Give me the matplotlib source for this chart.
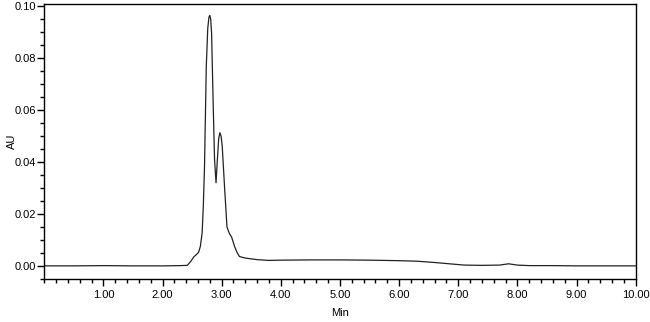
import matplotlib
matplotlib.use("Agg")
import matplotlib.pyplot as plt
from matplotlib.ticker import MultipleLocator, FormatStrFormatter

# chromatogram trace (minutes, AU)
time_min = [0.00, 0.50, 1.00, 1.50, 2.00, 2.30, 2.42, 2.48, 2.53, 2.58, 2.61, 2.64,
            2.67, 2.69, 2.71, 2.74, 2.765, 2.785, 2.80, 2.815, 2.83, 2.855, 2.88, 2.905, 2.925,
            2.95, 2.97, 2.99, 3.01, 3.05, 3.09, 3.13, 3.17, 3.22, 3.26, 3.30, 3.40, 3.60,
            3.80, 4.00, 4.50, 5.00, 5.50, 6.00, 6.30, 6.60, 6.90, 7.10, 7.40,
            7.70, 7.85, 8.00, 8.20, 8.60, 9.00, 9.50, 10.00]
absorb = [0.0000, 0.0000, 0.0001, 0.0000, 0.0000, 0.0001, 0.0002, 0.0018, 0.0035, 0.0045, 0.0052, 0.0075,
          0.0127, 0.0230, 0.0380, 0.0766, 0.0915, 0.0958, 0.0965, 0.0950, 0.0896, 0.0640, 0.0410, 0.0320, 0.0400,
          0.0490, 0.0513, 0.0500, 0.0460, 0.0300, 0.0150, 0.0125, 0.0110, 0.0074, 0.0052, 0.0036, 0.0030, 0.0024,
          0.0021, 0.0022, 0.0023, 0.0023, 0.0022, 0.0020, 0.0018, 0.0013, 0.0007, 0.0003, 0.0002,
          0.0003, 0.0008, 0.0003, 0.0001, 0.0001, 0.0000, 0.0000, 0.0000]

x_ticks = [1, 2, 3, 4, 5, 6, 7, 8, 9, 10]

plt.rcParams['font.family'] = ['Liberation Sans', 'DejaVu Sans']
plt.rcParams['font.size'] = 8

fig = plt.figure(figsize=(6.5, 3.22), dpi=100)
ax = fig.add_axes([0.068, 0.134, 0.910, 0.853])

ax.plot(time_min, absorb, color="#222222", linewidth=0.9)

ax.set_xlim(0, 10)
ax.set_ylim(-0.005, 0.1008)
ax.set_xticks(x_ticks)
ax.xaxis.set_minor_locator(MultipleLocator(0.2))
ax.yaxis.set_major_locator(MultipleLocator(0.02))
ax.yaxis.set_minor_locator(MultipleLocator(0.005))
ax.xaxis.set_major_formatter(FormatStrFormatter("%.2f"))
ax.yaxis.set_major_formatter(FormatStrFormatter("%.2f"))
ax.tick_params(axis="y", which="major", length=5, width=1, direction="out", pad=1)
ax.tick_params(axis="x", which="major", length=5, width=1, direction="out", pad=3)
ax.tick_params(which="minor", length=3, width=1, direction="out")
for s in ax.spines.values():
    s.set_linewidth(1)

ax.set_xlabel("Min")
ax.set_ylabel("AU")
ax.yaxis.set_label_coords(-0.046, 0.5)
ax.xaxis.set_label_coords(0.5, -0.105)

fig.savefig("out.png", dpi=100)
